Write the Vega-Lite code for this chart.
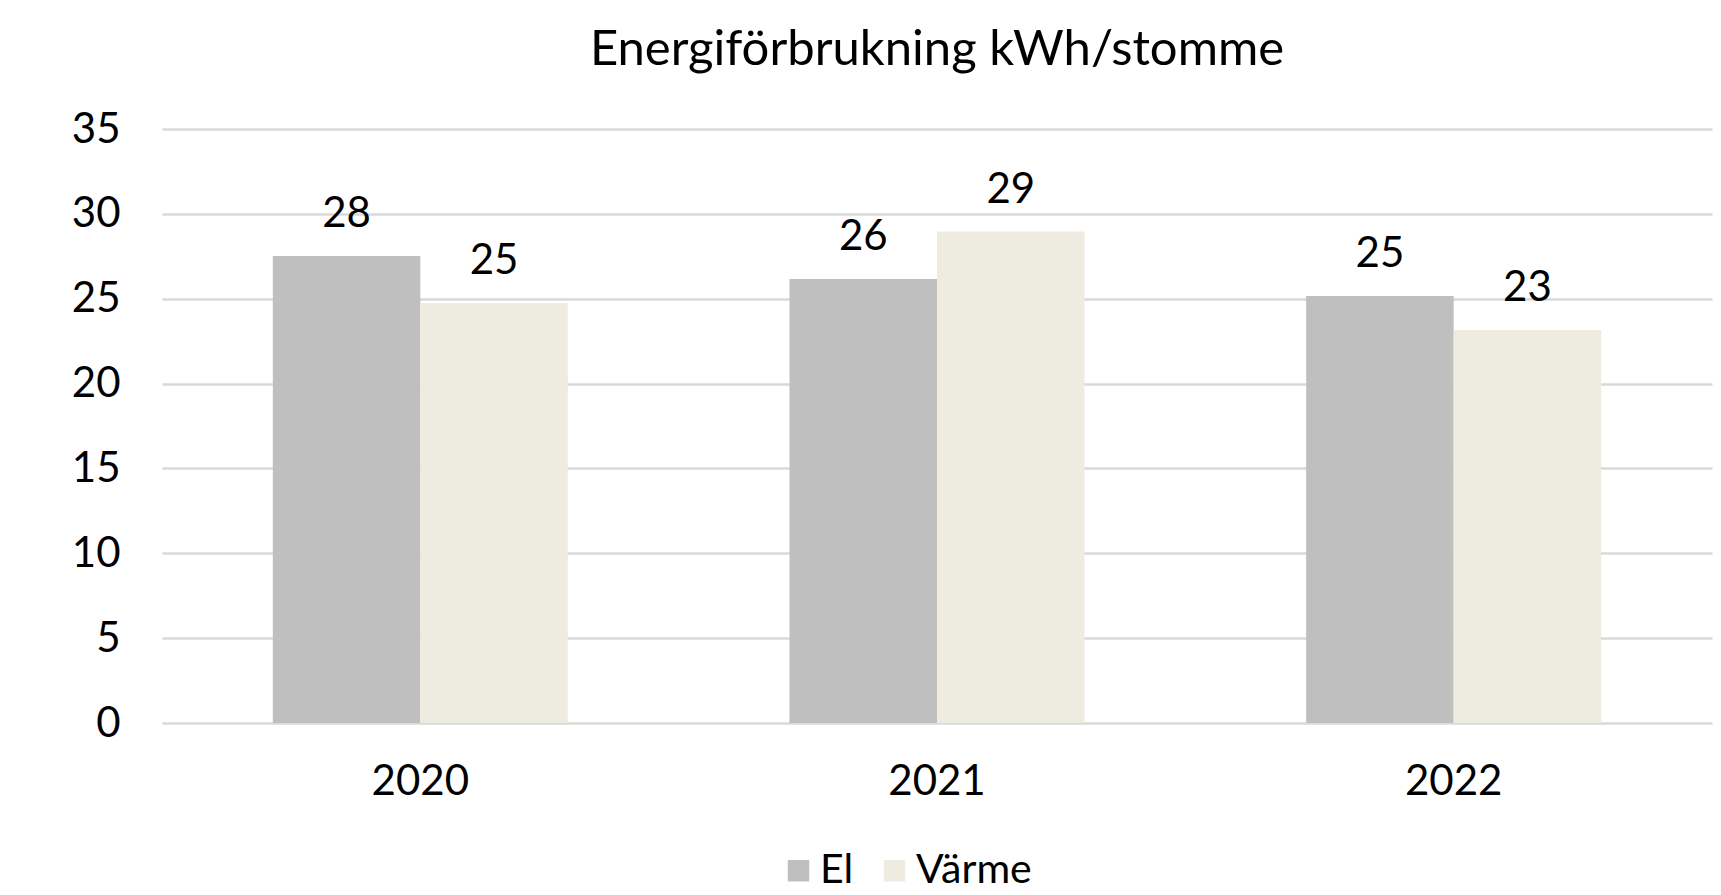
{
  "$schema": "https://vega.github.io/schema/vega-lite/v6.json",
  "width": 1550,
  "height": 594,
  "autosize": {"type": "none"},
  "padding": {"left": 162, "top": 129, "right": 9, "bottom": 172},
  "background": "white",
  "config": {"view": {"stroke": null}},
  "title": {
    "text": "Energiförbrukning kWh/stomme",
    "font": "Lato",
    "fontSize": 49,
    "fontWeight": "normal",
    "color": "#000000",
    "anchor": "middle",
    "offset": 33
  },
  "data": {
    "values": [
      {"year": "2020", "type": "El", "value": 27.52},
      {"year": "2020", "type": "Värme", "value": 24.75},
      {"year": "2021", "type": "El", "value": 26.16},
      {"year": "2021", "type": "Värme", "value": 28.96},
      {"year": "2022", "type": "El", "value": 25.16},
      {"year": "2022", "type": "Värme", "value": 23.16}
    ]
  },
  "encoding": {
    "x": {
      "field": "year",
      "type": "nominal",
      "scale": {"paddingInner": 0.429, "paddingOuter": 0.2145},
      "axis": {
        "title": null,
        "labelAngle": 0,
        "domain": false,
        "ticks": false,
        "labelFont": "Lato",
        "labelFontSize": 42,
        "labelColor": "#000000",
        "labelPadding": 38
      }
    },
    "xOffset": {"field": "type", "type": "nominal", "sort": ["El", "Värme"], "scale": {"paddingInner": 0, "paddingOuter": 0}},
    "y": {
      "field": "value",
      "type": "quantitative",
      "scale": {"domain": [0, 35], "nice": false},
      "axis": {
        "title": null,
        "values": [0, 5, 10, 15, 20, 25, 30, 35],
        "domain": false,
        "ticks": false,
        "grid": true,
        "gridColor": "#D9D9D9",
        "gridWidth": 2.5,
        "labelFont": "Lato",
        "labelFontSize": 42,
        "labelColor": "#000000",
        "labelPadding": 42
      }
    }
  },
  "layer": [
    {
      "mark": {"type": "bar"},
      "encoding": {
        "color": {
          "field": "type",
          "type": "nominal",
          "scale": {"domain": ["El", "Värme"], "range": ["#BFBFBF", "#EEECE1"]},
          "legend": {
            "title": null,
            "orient": "none",
            "direction": "horizontal",
            "legendX": 616,
            "legendY": 721,
            "symbolType": "square",
            "symbolSize": 460,
            "symbolStrokeWidth": 0,
            "labelFont": "Lato",
            "labelFontSize": 41,
            "labelColor": "#000000",
            "labelOffset": 1,
            "columnPadding": 20
          }
        }
      }
    },
    {
      "mark": {"type": "text", "baseline": "alphabetic", "dy": -29, "font": "Lato", "fontSize": 42, "color": "#000000"},
      "encoding": {
        "text": {"field": "value", "type": "quantitative", "format": ".0f"}
      }
    }
  ]
}
